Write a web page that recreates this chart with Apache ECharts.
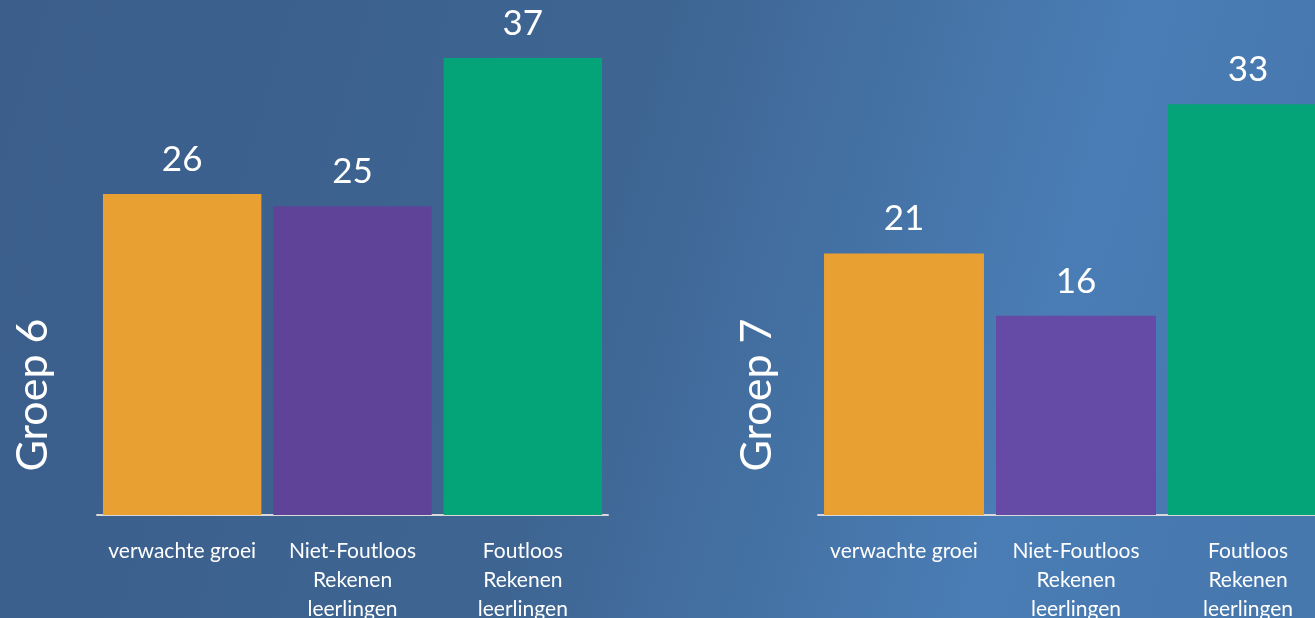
<!DOCTYPE html>
<html>
<head>
<meta charset="utf-8">
<script src="https://cdn.jsdelivr.net/npm/echarts@6/dist/echarts.min.js"></script>
<style>
html,body{margin:0;padding:0;}
#chart{width:1315px;height:618px;}
</style>
</head>
<body>
<div id="chart"></div>
<script>
var categories = ['verwachte groei', 'Niet-Foutloos\nRekenen\nleerlingen', 'Foutloos\nRekenen\nleerlingen'];
var groep6Values = [26, 25, 37];
var groep7Values = [21, 16, 33];
var groupTitles = ['Groep 6', 'Groep 7'];
var colors6 = ['#E8A033', '#5E4399', '#04A478'];
var colors7 = ['#E8A033', '#654AA6', '#04A478'];

var FONT = 'Lato, "Open Sans", sans-serif';
var chart = echarts.init(document.getElementById('chart'), null, {renderer: 'canvas'});

function xAxisCfg(idx) {
  return {
    type: 'category', gridIndex: idx, data: categories,
    axisTick: {show: false},
    axisLine: {lineStyle: {color: '#d9d9d9', width: 2}},
    axisLabel: {color: '#ffffff', fontFamily: FONT, fontSize: 21, lineHeight: 29, margin: 22, interval: 0}
  };
}
function yAxisCfg(idx) {
  return {type: 'value', gridIndex: idx, min: 0, max: 40, show: false, splitLine: {show: false}};
}
function seriesCfg(idx, vals, cols) {
  return {
    type: 'bar', xAxisIndex: idx, yAxisIndex: idx,
    data: vals.map(function (v, i) { return {value: v, itemStyle: {color: cols[i]}}; }),
    barCategoryGap: '7%',
    label: {show: true, position: 'top', distance: 17, color: '#ffffff', fontFamily: FONT, fontSize: 35}
  };
}

chart.setOption({
  backgroundColor: {
    type: 'linear', x: 0, y: 0.2, x2: 1, y2: 0.8,
    colorStops: [
      {offset: 0, color: '#3b5e8b'},
      {offset: 0.45, color: '#3e6592'},
      {offset: 0.78, color: '#4a7db5'},
      {offset: 1, color: '#4677ad'}
    ]
  },
  animation: false,
  grid: [
    {left: 97, width: 511, top: 21, bottom: 103, outerBoundsMode: 'none', containLabel: false},
    {left: 818, width: 516, top: 17, bottom: 103, outerBoundsMode: 'none', containLabel: false}
  ],
  xAxis: [xAxisCfg(0), xAxisCfg(1)],
  yAxis: [yAxisCfg(0), yAxisCfg(1)],
  series: [seriesCfg(0, groep6Values, colors6), seriesCfg(1, groep7Values, colors7)],
  graphic: [
    {type: 'text', x: 33, y: 395, rotation: Math.PI / 2,
      style: {text: groupTitles[0], fill: '#ffffff', font: '43px ' + FONT, textAlign: 'center', textVerticalAlign: 'middle'}},
    {type: 'text', x: 757, y: 395, rotation: Math.PI / 2,
      style: {text: groupTitles[1], fill: '#ffffff', font: '43px ' + FONT, textAlign: 'center', textVerticalAlign: 'middle'}}
  ]
});
</script>
</body>
</html>
